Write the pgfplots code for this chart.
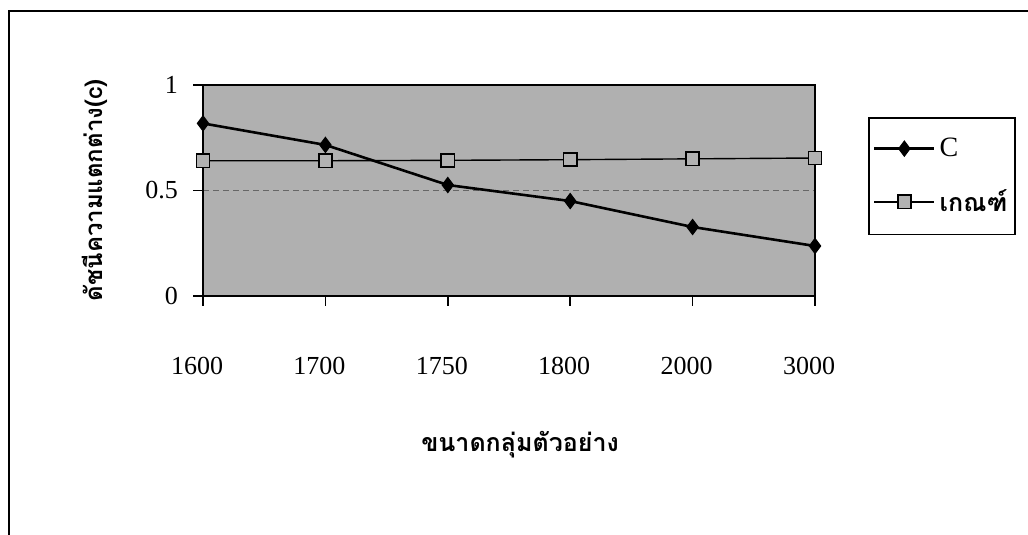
\documentclass[border=0pt]{standalone}
\usepackage{pgfplots}
\pgfplotsset{compat=1.18}
\usepackage{fontspec}
\setmainfont{Liberation Serif}
\newfontfamily\thaifont[Script=Thai]{Loma}
\begin{document}
\begin{tikzpicture}[x=1pt,y=1pt]
\useasboundingbox (0,0) rectangle (514,267.5);
\draw[line width=1pt] (4.5,-10) -- (4.5,262) -- (530,262);
\begin{axis}[
 at={(101.5pt,119.5pt)}, anchor=south west,
 scale only axis, width=306pt, height=105.5pt,
 xmin=0, xmax=5, ymin=0, ymax=1,
 clip=false,
 xtick={0,1,2,3,4,5}, xticklabels={1600,1700,1750,1800,2000,3000},
 ytick={0,0.5,1}, yticklabels={0,0.5,1},
 xtick pos=bottom, ytick pos=left,
 tick align=outside, major tick length=5pt,
 tick style={black, line width=0.8pt},
 axis line style={line width=1pt},
 axis background/.style={fill=black!31},
 ymajorgrids, grid style={densely dashed, black!60, line width=0.6pt},
 ticklabel style={font=\fontsize{13}{15}\selectfont},
 xticklabel style={yshift=-22pt, xshift=-3pt},
 yticklabel style={xshift=-4pt},
 xlabel={\thaifont\bfseries ขนาดกลุ่มตัวอย่าง},
 xlabel style={at={(0.518,-0.706)}, anchor=center, font=\fontsize{12.5}{14}\selectfont},
 ylabel={\thaifont\bfseries ดัชนีความแตกต่าง(c)},
 ylabel style={at={(-0.176,0.5)}, anchor=center, font=\fontsize{12}{14}\selectfont},
 legend style={at={(1.087,0.848)}, anchor=north west, draw=black, line width=0.8pt,
   fill=none, font=\fontsize{14}{16}\selectfont, row sep=11pt, inner xsep=2pt, inner ysep=8pt},
 legend cell align=left,
 legend image code/.code={\draw[mark repeat=2,mark phase=2,#1] plot coordinates {(0pt,0pt)(15pt,0pt)(30pt,0pt)};},
]
\addplot[black, line width=1.3pt, mark=diamond*, mark size=3.8pt,
  mark options={fill=black, line width=0.5pt}]
  coordinates {(0,0.818)(1,0.716)(2,0.526)(3,0.45)(4,0.327)(5,0.237)};
\addlegendentry{C}
\addplot[black, line width=0.7pt, mark=square*, mark size=3.3pt,
  mark options={fill=black!30, line width=0.8pt}]
  coordinates {(0,0.641)(1,0.641)(2,0.643)(3,0.646)(4,0.65)(5,0.654)};
\addlegendentry{\thaifont\bfseries\fontsize{12.5}{14}\selectfont เกณฑ์}
\end{axis}
\end{tikzpicture}
\end{document}
